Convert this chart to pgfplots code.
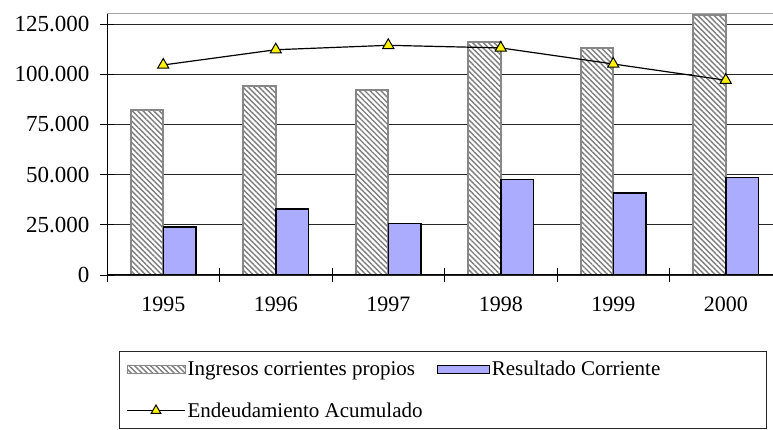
\documentclass[border=0pt]{standalone}
\usepackage{fontspec}
\setmainfont{Liberation Serif}
\usepackage{pgfplots}
\pgfplotsset{compat=1.18}
\usetikzlibrary{patterns.meta}
\definecolor{resblue}{RGB}{172,172,255}
\definecolor{hatchgray}{RGB}{125,125,125}
\definecolor{edgegray}{RGB}{135,135,135}
\pgfplotsset{
  leginc/.style={legend image code/.code={\draw[##1, line width=1pt] (0pt,-4pt) rectangle (58pt,4pt);}},
  legres/.style={legend image code/.code={\draw[##1, line width=1.2pt] (0pt,-4pt) rectangle (52pt,4pt);}},
  legline/.style={legend image code/.code={\draw[##1, mark size=5.5pt, mark repeat=2, mark phase=2] plot coordinates {(0pt,0pt) (29pt,0pt) (58pt,0pt)};}},
}
\begin{document}
\begin{tikzpicture}[font=\fontsize{21}{25}\selectfont]
\begin{axis}[
  at={(107pt,155pt)}, anchor=south west,
  scale only axis, width=675pt, height=261pt,
  xmin=-0.5, xmax=5.5, ymin=0, ymax=130000,
  xtick={-0.5,0.5,1.5,2.5,3.5,4.5,5.5},
  x tick label as interval,
  xticklabels={1995,1996,1997,1998,1999,2000},
  ytick={0,25000,50000,75000,100000,125000},
  xtick pos=bottom, ytick pos=left,
  scaled y ticks=false,
  yticklabel={\pgfmathprintnumber[fixed,precision=0,1000 sep={.},assume math mode=true]{\tick}},
  ymajorgrids, grid style={black!85, line width=0.8pt},
  tick align=center, major tick length=14pt,
  tick style={black, line width=0.8pt},
  axis line style={gray!70, line width=1pt},
  xticklabel style={font=\fontsize{22}{26}\selectfont, yshift=-11pt},
  yticklabel style={font=\fontsize{23}{27}\selectfont, xshift=-7pt},
  legend columns=2,
  legend cell align=left,
  legend style={at={(0.0178,-0.2912)}, anchor=north west, draw=black!85, line width=0.8pt,
    font=\fontsize{21}{25}\selectfont, row sep=21pt, inner xsep=7pt, inner ysep=8pt,
    /tikz/every even column/.append style={column sep=12pt}},
]
\addplot[ybar, bar width=32.5pt, bar shift=-16.25pt, draw=edgegray, line width=1.8pt, fill=white,
  postaction={pattern={Lines[angle=-45,distance=3.8pt,line width=1.4pt]}, pattern color=hatchgray}, leginc]
  coordinates {(0,82000) (1,94000) (2,92000) (3,116000) (4,113000) (5,129300)};
\addlegendentry{Ingresos corrientes propios}
\addplot[ybar, bar width=32.5pt, bar shift=16.25pt, draw=black, line width=1.5pt, fill=resblue, legres]
  coordinates {(0,23800) (1,32800) (2,25600) (3,47600) (4,40800) (5,48600)};
\addlegendentry{Resultado Corriente\hspace*{97pt}}
\addplot[black, line width=1.2pt, mark=triangle*, mark size=6.5pt,
  mark options={fill=yellow, draw=black, line width=1pt}, legline]
  coordinates {(0,104600) (1,112200) (2,114400) (3,113100) (4,105100) (5,97000)};
\addlegendentry{Endeudamiento Acumulado}
\draw[black, line width=1pt] (rel axis cs:0,1) -- (rel axis cs:0,0) -- (rel axis cs:1,0);
\end{axis}
\pgfresetboundingbox
\useasboundingbox (0pt,0pt) rectangle (773pt,430pt);
\end{tikzpicture}
\end{document}
